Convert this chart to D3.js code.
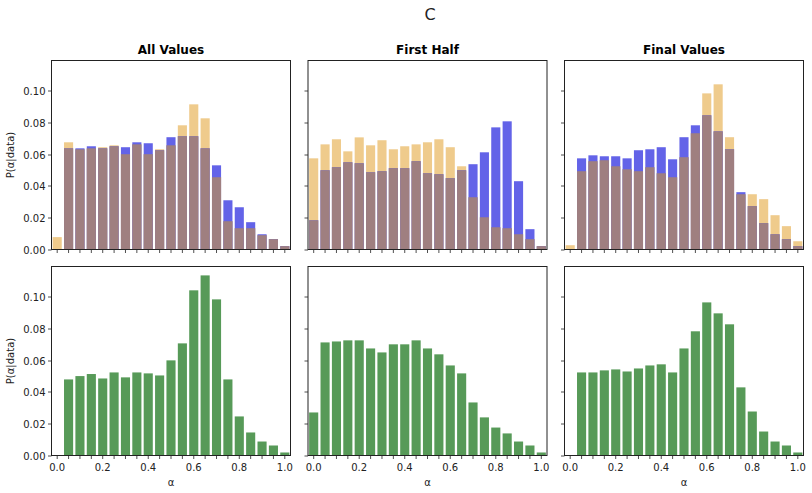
<!DOCTYPE html>
<html>
<head>
<meta charset="utf-8">
<script src="https://cdn.jsdelivr.net/npm/d3@7"></script>
<style>
body{margin:0;background:#fff;}
svg{display:block;font-family:"DejaVu Sans",sans-serif;}
</style>
</head>
<body>
<svg id="chart" width="812" height="493"></svg>
<script>
const alphas = d3.range(21).map(i => +(i * 0.05).toFixed(2));
const panelTitles = ["All Values", "First Half", "Final Values"];
const yTicks = [0, 0.02, 0.04, 0.06, 0.08, 0.10];
const xLabelTicks = [0, 0.2, 0.4, 0.6, 0.8, 1.0];

// top row: orange series and blue series
const allOrange = [0.0078,0.0675,0.0631,0.0637,0.0644,0.0656,0.0600,0.0662,0.0600,0.0631,0.0656,0.0782,0.0914,0.0826,0.0455,0.0178,0.0134,0.0134,0.0090,0.0065,0.0021];
const allBlue   = [0.0000,0.0637,0.0637,0.0650,0.0637,0.0650,0.0644,0.0675,0.0669,0.0625,0.0707,0.0713,0.0713,0.0637,0.0530,0.0310,0.0266,0.0172,0.0096,0.0065,0.0021];
const firstOrange = [0.0574,0.0662,0.0694,0.0618,0.0706,0.0656,0.0688,0.0631,0.0650,0.0662,0.0675,0.0694,0.0644,0.0524,0.0329,0.0203,0.0140,0.0134,0.0096,0.0065,0.0021];
const firstBlue   = [0.0184,0.0499,0.0518,0.0549,0.0543,0.0486,0.0493,0.0512,0.0512,0.0556,0.0480,0.0474,0.0449,0.0499,0.0537,0.0612,0.0769,0.0807,0.0430,0.0128,0.0021];
const finalOrange = [0.0027,0.0493,0.0556,0.0562,0.0524,0.0505,0.0493,0.0518,0.0480,0.0455,0.0581,0.0732,0.0983,0.1040,0.0707,0.0348,0.0348,0.0317,0.0216,0.0147,0.0052];
const finalBlue   = [0.0000,0.0574,0.0593,0.0587,0.0587,0.0574,0.0625,0.0631,0.0644,0.0568,0.0707,0.0782,0.0845,0.0744,0.0631,0.0361,0.0273,0.0166,0.0096,0.0065,0.0021];
// bottom row: green
const allGreen   = [0.0000,0.0479,0.0500,0.0513,0.0485,0.0523,0.0492,0.0523,0.0517,0.0504,0.0599,0.0706,0.1040,0.1134,0.0983,0.0479,0.0246,0.0145,0.0088,0.0063,0.0019];
const firstGreen = [0.0271,0.0712,0.0718,0.0725,0.0725,0.0674,0.0649,0.0700,0.0700,0.0725,0.0674,0.0637,0.0567,0.0517,0.0334,0.0240,0.0176,0.0139,0.0088,0.0063,0.0019];
const finalGreen = [0.0000,0.0523,0.0523,0.0536,0.0542,0.0529,0.0548,0.0567,0.0574,0.0523,0.0674,0.0782,0.0964,0.0895,0.0826,0.0429,0.0277,0.0151,0.0088,0.0063,0.0019];

const topSeries = [[allOrange, allBlue],[firstOrange, firstBlue],[finalOrange, finalBlue]];
const bottomSeries = [allGreen, firstGreen, finalGreen];

const C_OR = "#efcb8c", C_BL = "#6363e8", C_BR = "#9f7f80", C_GR = "#579a58";
const TXT = "#222";

const svg = d3.select("#chart");
const colX = [51.5, 308, 564.5];
const rowY = [60.5, 266.5];
const W = 239, H = 189;

const x = d3.scaleLinear().domain([-0.025, 1.025]).range([0, W]);
const y = d3.scaleLinear().domain([0, 0.119]).range([H, 0]);
const bw = x(0.04) - x(0);

svg.append("text").attr("x", 430).attr("y", 20).attr("text-anchor","middle")
  .attr("font-size", 16).attr("fill", TXT).text("C");

function drawAxes(g, r, c){
  // y ticks
  const ya = g.append("g");
  yTicks.forEach(t => {
    const yy = Math.round(y(t)) + 0.5;
    ya.append("line").attr("x1",-3.5).attr("x2",0).attr("y1",yy).attr("y2",yy).attr("stroke",TXT).attr("stroke-width",0.8);
    if (c === 0) ya.append("text").attr("x",-6).attr("y",yy).attr("dy","0.35em").attr("text-anchor","end")
      .attr("font-size",10).attr("fill",TXT).text(d3.format(".2f")(t));
  });
  alphas.forEach(a => {
    const xx = x(a);
    g.append("line").attr("x1",xx).attr("x2",xx).attr("y1",H).attr("y2",H+3.5).attr("stroke",TXT).attr("stroke-width",0.8);
  });
  if (r === 1) {
    xLabelTicks.forEach(t => {
      g.append("text").attr("x", x(t)).attr("y", H+15).attr("text-anchor","middle")
        .attr("font-size",10).attr("fill",TXT).text(d3.format(".1f")(t));
    });
    g.append("text").attr("x", W/2).attr("y", H+30).attr("text-anchor","middle")
      .attr("font-size",10).attr("fill",TXT).text("α");
  }
  if (c === 0) {
    g.append("text").attr("transform",`translate(-38,${H/2}) rotate(-90)`).attr("text-anchor","middle")
      .attr("font-size",10).attr("fill",TXT).text("P(α|data)");
  }
  g.append("rect").attr("x",0).attr("y",0).attr("width",W).attr("height",H)
    .attr("fill","none").attr("stroke",TXT).attr("stroke-width",1);
}

for (let c = 0; c < 3; c++) {
  // top
  const gt = svg.append("g").attr("transform", `translate(${colX[c]},${rowY[0]})`);
  const [or, bl] = topSeries[c];
  const data = alphas.map((a,i) => ({a, o: or[i], b: bl[i]}));
  gt.selectAll(".o").data(data).enter().append("rect")
    .attr("x", d => x(d.a) - bw/2).attr("width", bw)
    .attr("y", d => y(d.o)).attr("height", d => y(0) - y(d.o)).attr("fill", C_OR);
  gt.selectAll(".b").data(data).enter().append("rect")
    .attr("x", d => x(d.a) - bw/2).attr("width", bw)
    .attr("y", d => y(d.b)).attr("height", d => y(0) - y(d.b)).attr("fill", C_BL);
  gt.selectAll(".m").data(data).enter().append("rect")
    .attr("x", d => x(d.a) - bw/2).attr("width", bw)
    .attr("y", d => y(Math.min(d.o,d.b))).attr("height", d => y(0) - y(Math.min(d.o,d.b))).attr("fill", C_BR);
  gt.append("text").attr("x", W/2).attr("y", -7).attr("text-anchor","middle")
    .attr("font-size",12).attr("font-weight","bold").attr("fill","#000").text(panelTitles[c]);
  drawAxes(gt, 0, c);

  // bottom
  const gb = svg.append("g").attr("transform", `translate(${colX[c]},${rowY[1]})`);
  const gd = alphas.map((a,i) => ({a, v: bottomSeries[c][i]}));
  gb.selectAll(".g").data(gd).enter().append("rect")
    .attr("x", d => x(d.a) - bw/2).attr("width", bw)
    .attr("y", d => y(d.v)).attr("height", d => y(0) - y(d.v)).attr("fill", C_GR);
  drawAxes(gb, 1, c);
}
</script>
</body>
</html>
